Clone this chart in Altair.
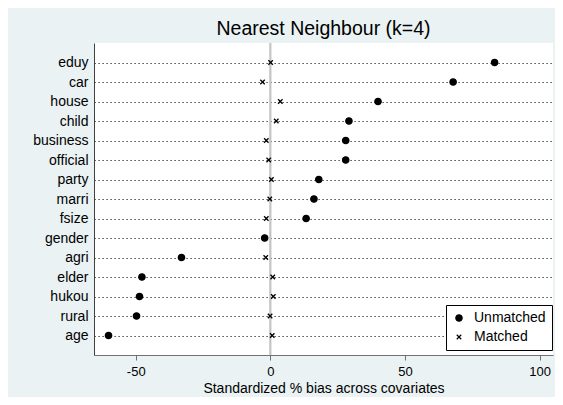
import altair as alt
import pandas as pd

covariates = ["eduy", "car", "house", "child", "business", "official", "party",
              "marri", "fsize", "gender", "agri", "elder", "hukou", "rural", "age"]
unmatched = [83.3, 67.9, 40.0, 29.2, 28.0, 28.0, 18.0, 16.2, 13.3, -2.1,
             -33.0, -47.7, -48.6, -49.7, -60.1]
matched = [0.1, -2.9, 3.7, 2.2, -1.5, -0.6, 0.4, -0.2, -1.5, -2.0,
           -1.7, 0.9, 1.1, -0.1, 0.7]
x_ticks = [-50, 0, 50, 100]
series = ["Unmatched", "Matched"]

rows = []
for c, v in zip(covariates, matched):
    rows.append({"var": c, "bias": v, "type": "Matched"})
for c, v in zip(covariates, unmatched):
    rows.append({"var": c, "bias": v, "type": "Unmatched"})
df = pd.DataFrame(rows)

FONT = "Liberation Sans"
xshape = "M-1,-1L1,1M-1,1L1,-1"

xscale = alt.Scale(domain=[-65.5, 105], nice=False, zero=False)
yscale = alt.Scale(type="point", padding=1.23)

zero = alt.Chart(pd.DataFrame({"z": [0]})).mark_rule(
    color="#c4c4c4", strokeWidth=2.2
).encode(x=alt.X("z:Q", scale=xscale))

points = alt.Chart(df).mark_point(
    fill="black", stroke="black", strokeWidth=1.3, opacity=1
).encode(
    x=alt.X("bias:Q", scale=xscale,
            axis=alt.Axis(values=x_ticks, title="Standardized % bias across covariates",
                          grid=False, tickSize=5, labelPadding=5, titlePadding=3,
                          domainColor="#707070", tickColor="#707070",
                          labelFontSize=13, titleFontSize=14,
                          labelExpr="'' + datum.value")),
    y=alt.Y("var:N", sort=covariates, scale=yscale,
            axis=alt.Axis(title=None, ticks=False, labelPadding=6, grid=True,
                          gridDash=[1.2, 2.8], gridColor="#222", gridWidth=1.1,
                          domainColor="#404040", labelFontSize=14)),
    shape=alt.Shape("type:N", scale=alt.Scale(domain=series, range=["circle", xshape]),
                    legend=alt.Legend(title=None, orient="none", legendX=352, legendY=262,
                                      padding=6, strokeColor="black", fillColor="white",
                                      labelFontSize=14, labelOffset=8, rowPadding=5,
                                      symbolFillColor="black", symbolStrokeColor="black",
                                      symbolStrokeWidth=1.2)),
    size=alt.Size("type:N", scale=alt.Scale(domain=series, range=[40, 20]),
                  legend=alt.Legend(title=None, orient="none", legendX=352, legendY=262)),
)

chart = alt.layer(zero, points).properties(
    width=459, height=312,
    autosize=alt.AutoSizeParams(type="none"),
    padding={"left": 86, "top": 35, "right": 2, "bottom": 42},
    title=alt.TitleParams("Nearest Neighbour (k=4)", fontSize=19.5, font=FONT,
                          fontWeight="normal", anchor="middle", offset=2, color="black"),
).configure(
    background="#EAF2F3",
    font=FONT,
).configure_view(
    fill="white", stroke=None,
).configure_axis(
    labelFont=FONT, titleFont=FONT, labelColor="black", titleColor="black",
    titleFontWeight="normal", domainWidth=1,
).configure_legend(
    labelFont=FONT, labelColor="black",
)

chart.save("out.html", embed_options={"renderer": "svg", "actions": False})
